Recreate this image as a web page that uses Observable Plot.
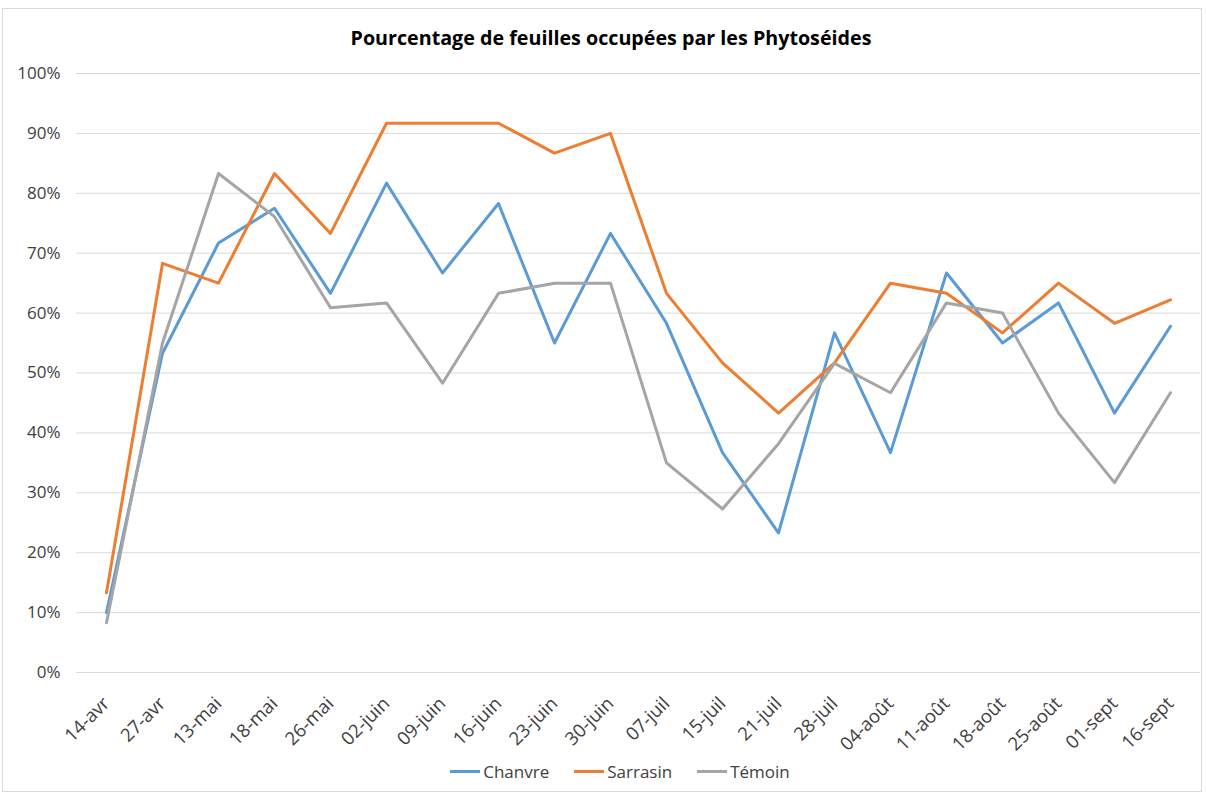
<!DOCTYPE html>
<html>
<head>
<meta charset="utf-8">
<script src="https://cdn.jsdelivr.net/npm/d3@7"></script>
<script src="https://cdn.jsdelivr.net/npm/@observablehq/plot@0.6"></script>
<style>
  html, body { margin: 0; padding: 0; background: #fff; }
  #frame { position: relative; width: 1206px; height: 796px; box-sizing: border-box; overflow: hidden; font-family: "Open Sans", "Liberation Sans", sans-serif; }
  #border { position: absolute; left: 2px; top: 8px; width: 1200px; height: 784px; border: 1px solid #d9d9d9; box-sizing: border-box; pointer-events: none; }
  #title { position: absolute; left: 0; top: 24px; width: 1206px; text-align: center; font-weight: bold; font-size: 19.7px; color: #000; line-height: 28px; padding-left: 16px; box-sizing: border-box; }
  #chart { position: absolute; left: 0; top: 50px; }
  #legend { position: absolute; left: 0; top: 760px; width: 1206px; padding-left: 34px; box-sizing: border-box; display: flex; justify-content: center; align-items: center; gap: 25px; font-size: 17px; color: #404040; }
  .item { display: flex; align-items: center; gap: 3px; }
  .sw { width: 30px; height: 3px; }
</style>
</head>
<body>
<div id="frame">
  <div id="border"></div>
  <div id="title">Pourcentage de feuilles occupées par les Phytoséides</div>
  <div id="chart"></div>
  <div id="legend"></div>
</div>
<script>
const dates = ["14-avr","27-avr","13-mai","18-mai","26-mai","02-juin","09-juin","16-juin","23-juin","30-juin","07-juil","15-juil","21-juil","28-juil","04-août","11-août","18-août","25-août","01-sept","16-sept"];
const chanvre  = [0.10, 0.533, 0.717, 0.775, 0.633, 0.817, 0.667, 0.783, 0.55, 0.733, 0.583, 0.367, 0.233, 0.567, 0.367, 0.667, 0.55, 0.617, 0.433, 0.578];
const sarrasin = [0.133, 0.683, 0.65, 0.833, 0.733, 0.917, 0.917, 0.917, 0.867, 0.90, 0.633, 0.517, 0.433, 0.517, 0.65, 0.633, 0.567, 0.65, 0.583, 0.622];
const temoin   = [0.083, 0.55, 0.833, 0.761, 0.609, 0.617, 0.483, 0.633, 0.65, 0.65, 0.35, 0.273, 0.382, 0.516, 0.467, 0.617, 0.60, 0.433, 0.317, 0.467];
const seriesNames = ["Chanvre", "Sarrasin", "Témoin"];
const seriesColors = ["#5b9bd5", "#ed7d31", "#a5a5a5"];
const yTicks = [0, 0.1, 0.2, 0.3, 0.4, 0.5, 0.6, 0.7, 0.8, 0.9, 1.0];

const seriesValues = [chanvre, sarrasin, temoin];
const data = [];
seriesNames.forEach((s, i) => dates.forEach((d, j) => data.push({series: s, date: d, value: seriesValues[i][j]})));

const chart = Plot.plot({
  width: 1206,
  height: 740,
  marginTop: 23,
  marginBottom: 118,
  marginLeft: 76,
  marginRight: 6,
  style: {fontFamily: "'Open Sans', 'Liberation Sans', sans-serif", fontSize: "17px", color: "#404040", background: "transparent", overflow: "visible"},
  x: {type: "point", domain: dates, padding: 0.5, label: null},
  y: {domain: [0, 1], label: null},
  color: {domain: seriesNames, range: seriesColors},
  marks: [
    Plot.gridY(yTicks, {stroke: "#d9d9d9", strokeOpacity: 1, strokeWidth: 1}),
    Plot.axisY({ticks: yTicks, tickFormat: d3.format(".0%"), tickSize: 0, tickPadding: 16, fontSize: 17, label: null}),
    Plot.axisX({tickSize: 0, tickRotate: -45, tickPadding: 24, dx: 0, dy: 4, fontSize: 18.5, label: null}),
    Plot.lineY(data, {x: "date", y: "value", z: "series", stroke: "series", strokeWidth: 3, strokeLinejoin: "round", strokeLinecap: "round"})
  ]
});
document.getElementById("chart").appendChild(chart);

const legend = document.getElementById("legend");
seriesNames.forEach((s, i) => {
  const item = document.createElement("div");
  item.className = "item";
  const sw = document.createElement("div");
  sw.className = "sw";
  sw.style.background = seriesColors[i];
  const t = document.createElement("span");
  t.textContent = s;
  item.appendChild(sw);
  item.appendChild(t);
  legend.appendChild(item);
});
</script>
</body>
</html>
